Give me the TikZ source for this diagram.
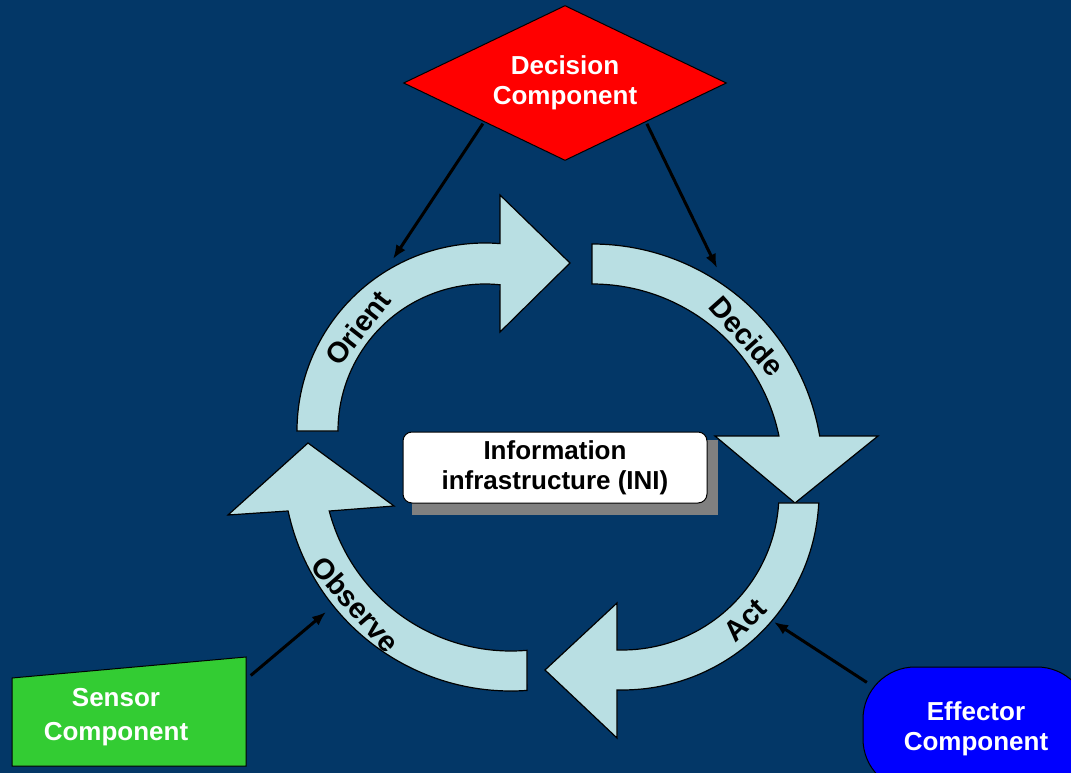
\documentclass[tikz,border=0pt]{standalone}
\usepackage{fontspec}
\setmainfont{Liberation Sans}
\usetikzlibrary{arrows.meta, shapes.geometric}
\definecolor{bgblue}{RGB}{3,55,103}
\definecolor{ringblue}{RGB}{185,223,227}
\definecolor{decred}{RGB}{255,0,0}
\definecolor{sengreen}{RGB}{51,204,51}
\definecolor{effblue}{RGB}{0,0,255}
\definecolor{shadegray}{RGB}{128,128,128}

\begin{document}
\begin{tikzpicture}[
    x=1pt, y=1pt,
    ring/.style={fill=ringblue, draw=black, line width=1.2pt, line join=miter},
    lbl/.style={font=\fontsize{26}{30}\selectfont\bfseries, align=center},
    arclbl/.style={font=\fontsize{29}{30}\selectfont\bfseries, inner sep=0pt},
    link/.style={line width=3pt, shorten <=2pt, -{Latex[length=14pt, width=11pt]}},
]
  % ---- Page ----
  \clip (0,0) rectangle (1071,-773);
  \fill[bgblue] (0,0) rectangle (1071,-773);

  % ---- Centres of the four arcs ----
  \coordinate (cO) at (485,-431);
  \coordinate (cD) at (592,-475);
  \coordinate (cA) at (622,-493);
  \coordinate (cB) at (511,-463);

  % ---- Orient ----
  \filldraw[ring] ([shift={(180:188)}]cO)
      arc[start angle=180, end angle=85.4, radius=188]
    -- (500,-195) -- (570,-263) -- (500,-332)
    -- ([shift={(84.1:147)}]cO)
      arc[start angle=84.1, end angle=180, radius=147] -- cycle;
  \node[arclbl, rotate=52] (ori) at ([shift={(141:164)}]cO) {Orient};

  % ---- Decide ----
  \filldraw[ring] ([shift={(90:231)}]cD)
      arc[start angle=90, end angle=9.72, radius=231]
    -- (878,-436) -- (795,-503) -- (715,-436)
    -- ([shift={(11.78:191)}]cD)
      arc[start angle=11.78, end angle=90, radius=191] -- cycle;
  \node[arclbl, rotate=-48.2] (dcd) at ([shift={(41.8:208)}]cD) {Decide};

  % ---- Act ----
  \filldraw[ring] ([shift={(-2.9:197)}]cA)
      arc[start angle=-2.9, end angle=-91.45, radius=197]
    -- (617,-738) -- (545,-670) -- (617,-603)
    -- ([shift={(-91.8:157)}]cA)
      arc[start angle=-91.8, end angle=-3.65, radius=157] -- cycle;
  \node[arclbl, rotate=44.1] (act) at ([shift={(-45.9:177)}]cA) {Act};

  % ---- Observe ----
  \filldraw[ring] ([shift={(274.02:228)}]cB)
      arc[start angle=274.02, end angle=192.15, radius=228]
    -- (228,-515) -- (308,-443) -- (394,-506)
    -- ([shift={(194.8:188)}]cB)
      arc[start angle=194.8, end angle=274.9, radius=188] -- cycle;
  \node[arclbl, rotate=-49] (obs) at ([shift={(222.2:210)}]cB) {Observe};

  % ---- Information infrastructure ----
  \fill[shadegray] (412,-440) rectangle (718,-515);
  \node[lbl, fill=white, draw=black, line width=1pt, rounded corners=9pt,
        minimum width=304pt, minimum height=71pt]
    (ini) at (555,-467.5) {Information\\infrastructure (INI)};

  % ---- Components ----
  \node[lbl, diamond, aspect=2.08, text=white, fill=decred, draw=black,
        line width=1pt, minimum width=323pt, minimum height=155pt, inner sep=0pt]
    (dec) at (565,-83) {Decision\\Component};

  \filldraw[fill=sengreen, draw=black, line width=1pt]
    (12,-678) -- (246,-657) -- (246,-766) -- (12,-766) -- cycle;
  \node[lbl, font=\fontsize{26}{34}\selectfont\bfseries, text=white,
        minimum width=260pt, minimum height=118pt]
    (sen) at (116,-717) {Sensor\\Component};

  \node[lbl, text=white, fill=effblue, draw=black, line width=1pt,
        rounded corners=52pt, minimum width=226pt, minimum height=124pt]
    (eff) at (976,-729) {Effector\\Component};

  % ---- Links ----
  \coordinate (oriTip) at (393,-259);
  \coordinate (decTip) at (717,-268);
  \coordinate (obsTip) at (326,-612);
  \coordinate (actTip) at (774,-622);

  \draw[link] (dec.south west) -- (oriTip);
  \draw[link] (dec.south east) -- (decTip);
  \draw[link] ([shift={(3,-19)}]sen.north east) -- (obsTip);
  \draw[link] ([shift={(6,-17)}]eff.north west) -- (actTip);

\end{tikzpicture}
\end{document}
